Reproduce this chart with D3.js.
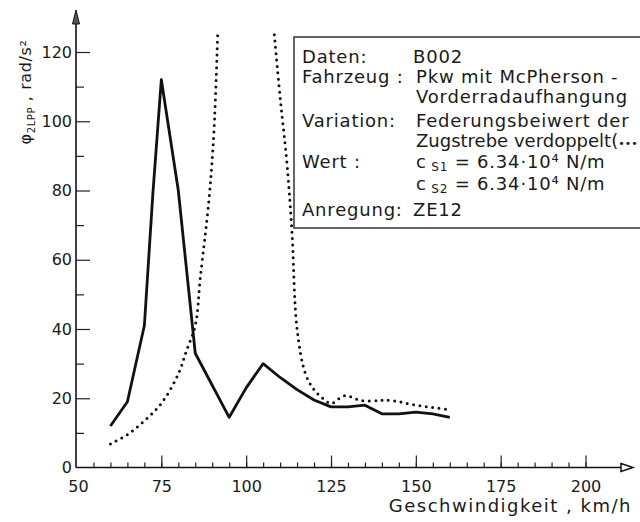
<!DOCTYPE html>
<html>
<head>
<meta charset="utf-8">
<script src="https://cdn.jsdelivr.net/npm/d3@7"></script>
<style>
  body { margin: 0; background: #fff; }
  text { font-family: "DejaVu Sans", sans-serif; fill: #1a1a1a; }
</style>
</head>
<body>
<script>
// Geschwindigkeit (km/h) und phi_2LPP (rad/s^2)
const speedBase = [60, 65, 70, 72.5, 75, 80, 85, 95, 100, 105, 110, 115, 120, 125, 130, 135, 140, 145, 150, 155, 160]
const phiBase = [12, 19, 41, 79, 112, 80, 33, 14.5, 23, 30, 26, 22.5, 19.5, 17.5, 17.5, 18, 15.5, 15.5, 16, 15.5, 14.5]

// Variation (punktiert); null = ausserhalb des Bildes
const speedVar = [60, 65, 70, 75, 80, 82.5, 85, 86.5, 89, 90.5, 91.6, 100, 108.3, 110, 112, 113.5, 115, 117.5, 120, 122.5, 125, 129, 134, 139, 141, 145, 150, 155, 160]
const phiVar = [6.8, 9.5, 13.5, 18.5, 27, 34, 41, 55, 77, 97, 125, null, 125, 107, 88, 68, 40, 27, 22.5, 20, 18.5, 20.7, 19.3, 19.3, 19.5, 19, 18, 17.3, 16.7]

const xMajor = [50, 75, 100, 125, 150, 175, 200]
const yMajor = [0, 20, 40, 60, 80, 100, 120]

const legendLabels = ['Daten:', 'Fahrzeug :', '', 'Variation:', '', 'Wert :', '', 'Anregung:']
const legendValues = ['B002', 'Pkw mit McPherson -', 'Vorderradaufhangung', 'Federungsbeiwert der', 'Zugstrebe verdoppelt(', 'cs1', 'cs2', 'ZE12']

const width = 640
const height = 522

const svg = d3.select('body')
  .append('svg')
  .attr('width', width)
  .attr('height', height)

const x = d3.scaleLinear().domain([50, 200]).range([76.5, 585.5])
const y = d3.scaleLinear().domain([0, 120]).range([467.5, 52])

// x axis ticks (pointing up)
svg.append('g')
  .attr('transform', `translate(0,${y(0)})`)
  .call(d3.axisBottom(x).tickValues(d3.range(55, 201, 5)).tickSize(-5).tickFormat(''))
  .call(g => g.select('.domain').remove())
  .call(g => g.selectAll('line').attr('stroke', '#222').attr('stroke-width', 1.2))

svg.append('g')
  .attr('transform', `translate(0,${y(0)})`)
  .call(d3.axisBottom(x).tickValues(xMajor.slice(1)).tickSize(-12).tickPadding(13))
  .call(g => g.select('.domain').remove())
  .call(g => g.selectAll('line').attr('stroke', '#222').attr('stroke-width', 1.2))
  .call(g => g.selectAll('text').style('font-size', '16px').attr('dy', '0.71em'))

svg.append('text')
  .attr('x', x(50) + 2)
  .attr('y', y(0) + 24)
  .attr('text-anchor', 'middle')
  .style('font-size', '16px')
  .text('50')

// y axis ticks (pointing right)
svg.append('g')
  .attr('transform', `translate(${x(50) - 0.5},0)`)
  .call(d3.axisLeft(y).tickValues(d3.range(10, 121, 20)).tickSize(-8).tickFormat(''))
  .call(g => g.select('.domain').remove())
  .call(g => g.selectAll('line').attr('stroke', '#222').attr('stroke-width', 1.2))

svg.append('g')
  .attr('transform', `translate(${x(50) - 0.5},0)`)
  .call(d3.axisLeft(y).tickValues(yMajor).tickSize(-14).tickPadding(4))
  .call(g => g.select('.domain').remove())
  .call(g => g.selectAll('line').attr('stroke', '#222').attr('stroke-width', 1.2))
  .call(g => g.selectAll('text').style('font-size', '16px'))
  .call(g => g.selectAll('.tick').filter(d => d === 0).select('line').remove())

// axis lines with arrows
const ax = x(50) - 0.5
const ay = y(0)
svg.append('line').attr('x1', ax).attr('x2', ax).attr('y1', ay).attr('y2', 22)
  .attr('stroke', '#111').attr('stroke-width', 1.6)
svg.append('path').attr('d', `M${ax},10 L${ax - 3.5},24 L${ax + 3.5},24 Z`)
  .attr('fill', '#555').attr('stroke', '#111').attr('stroke-width', 1)
svg.append('line').attr('x1', ax).attr('x2', 621).attr('y1', ay).attr('y2', ay)
  .attr('stroke', '#111').attr('stroke-width', 1.6)
svg.append('path').attr('d', `M621,${ay - 4} L633,${ay} L621,${ay + 4} Z`)
  .attr('fill', '#fff').attr('stroke', '#111').attr('stroke-width', 1.5)

// axis titles
svg.append('text')
  .attr('x', 632)
  .attr('y', 512)
  .attr('text-anchor', 'end')
  .style('font-size', '18px')
  .style('letter-spacing', '1.5px')
  .text('Geschwindigkeit , km/h')

const yt = svg.append('text')
  .attr('transform', 'translate(31,92) rotate(-90)')
  .attr('text-anchor', 'middle')
  .style('font-size', '16px')
  .style('letter-spacing', '0.6px')
yt.append('tspan').text('φ')
yt.append('tspan').attr('dy', 4).style('font-size', '10px').text('2LPP')
yt.append('tspan').attr('dy', -4).text(' , rad/s²')

// curves
const base = speedBase.map((d, i) => [d, phiBase[i]])
const vari = speedVar.map((d, i) => [d, phiVar[i]])

svg.append('path')
  .datum(vari)
  .attr('fill', 'none')
  .attr('stroke', '#111')
  .attr('stroke-width', 3)
  .attr('stroke-linecap', 'round')
  .attr('stroke-dasharray', '0 6.4')
  .attr('d', d3.line()
    .defined(d => d[1] !== null)
    .x(d => x(d[0]))
    .y(d => y(d[1]))
    .curve(d3.curveCatmullRom))

svg.append('path')
  .datum(base)
  .attr('fill', 'none')
  .attr('stroke', '#111')
  .attr('stroke-width', 2.8)
  .attr('stroke-linejoin', 'round')
  .attr('d', d3.line().x(d => x(d[0])).y(d => y(d[1])))

// legend box
svg.append('rect')
  .attr('x', 294)
  .attr('y', 37)
  .attr('width', 380)
  .attr('height', 191)
  .attr('fill', '#fff')
  .attr('stroke', '#333')
  .attr('stroke-width', 1.5)

const rowY = [63, 83, 103, 127, 147, 168, 190, 216]
const leg = svg.append('g').style('font-size', '18px').style('letter-spacing', '0.8px')

leg.selectAll('text.lab')
  .data(legendLabels)
  .enter()
  .append('text')
  .attr('class', 'lab')
  .attr('x', 302)
  .attr('y', (d, i) => rowY[i])
  .text(d => d)

legendValues.forEach((v, i) => {
  const t = leg.append('text').attr('x', i === 0 || i === 7 ? 413 : 416).attr('y', rowY[i])
  if (v === 'cs1' || v === 'cs2') {
    t.append('tspan').text('c')
    t.append('tspan').attr('dy', 3).style('font-size', '12px').text(v === 'cs1' ? ' S1' : ' S2')
    t.append('tspan').attr('dy', -3).text(' = 6.34·10⁴ N/m')
  } else if (i === 4) {
    t.style('letter-spacing', '0px').text(v)
    t.append('tspan').style('font-size', '11px').text('•••')
  } else {
    t.text(v)
  }
})
</script>
</body>
</html>
